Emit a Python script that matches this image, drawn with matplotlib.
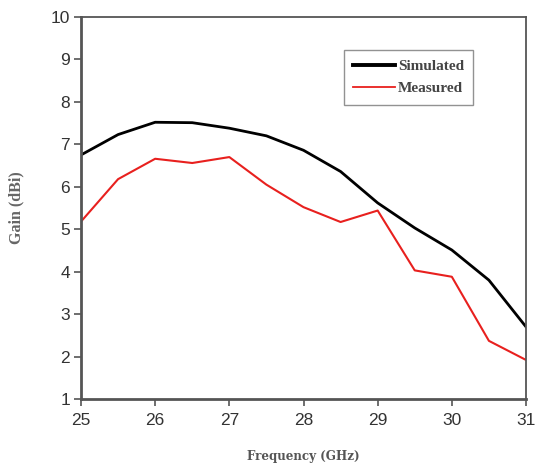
import numpy as np
import matplotlib.pyplot as plt

# frequency points (GHz)
freq = [25, 25.5, 26, 26.5, 27, 27.5, 28, 28.5, 29, 29.5, 30, 30.5, 31]
# gain (dBi)
simulated = [6.75, 7.23, 7.52, 7.51, 7.38, 7.2, 6.86, 6.36, 5.62, 5.03, 4.51, 3.8, 2.7]
measured = [5.18, 6.18, 6.66, 6.56, 6.7, 6.05, 5.52, 5.17, 5.44, 4.03, 3.88, 2.37, 1.92]

x_ticks = [25, 26, 27, 28, 29, 30, 31]
y_ticks = [1, 2, 3, 4, 5, 6, 7, 8, 9, 10]

fig = plt.figure(figsize=(5.38, 4.67), dpi=100)
ax = fig.add_axes([81 / 538, 1 - 399 / 467, 445 / 538, 382 / 467])

ax.plot(freq, simulated, color='black', lw=2.0, label='Simulated')
ax.plot(freq, measured, color='#e8201e', lw=1.5, label='Measured')

ax.set_xlim(25, 31)
ax.set_ylim(1, 10)
ax.set_xticks(x_ticks)
ax.set_yticks(y_ticks)

for lbl in ax.get_xticklabels() + ax.get_yticklabels():
    lbl.set_fontfamily('Liberation Sans')
    lbl.set_fontsize(12.5)
    lbl.set_color('#333333')

ax.tick_params(direction='out', length=5, width=1.2, color='#555555')
ax.tick_params(axis='x', pad=5)
ax.tick_params(axis='y', pad=3)

for side in ['left', 'bottom']:
    ax.spines[side].set_linewidth(2.0)
    ax.spines[side].set_color('#555555')
for side in ['top', 'right']:
    ax.spines[side].set_linewidth(1.3)
    ax.spines[side].set_color('#555555')

ax.set_xlabel('Frequency (GHz)', fontfamily='DejaVu Serif', fontsize=8.6,
              fontweight='bold', color='#555555', labelpad=16)
ax.set_ylabel('Gain (dBi)', fontfamily='Liberation Serif', fontsize=11.5,
              fontweight='bold', color='#666666', labelpad=19)

leg = ax.legend(loc='upper left', bbox_to_anchor=(263 / 445, 349 / 382),
                borderaxespad=0,
                prop={'family': 'Liberation Serif', 'weight': 'bold', 'size': 11},
                frameon=True, fancybox=False, handlelength=2.7,
                handletextpad=0.2, borderpad=0.62, labelspacing=0.55)
leg.get_frame().set_edgecolor('#777777')
leg.get_frame().set_linewidth(1.0)
leg.get_lines()[0].set_linewidth(2.8)
leg.get_lines()[1].set_linewidth(1.3)
for t in leg.get_texts():
    t.set_color('#444444')

fig.savefig('out.png', dpi=100)
